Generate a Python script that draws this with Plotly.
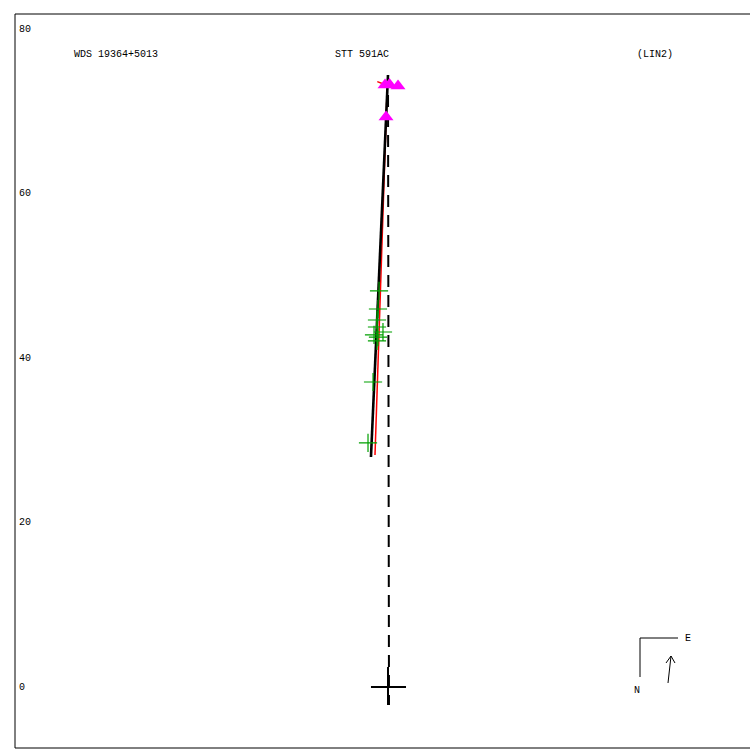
import plotly.graph_objects as go

# ---- data (units of the plot, origin = primary star) ----
obs_x = [-1.09, -1.22, -1.34, -1.34, -0.61, -1.70, -1.22, -1.34, -1.82, -2.43]
obs_y = [48.15, 45.96, 44.62, 43.77, 43.16, 42.80, 42.55, 42.07, 37.08, 29.67]

tri_x = [-0.36, 0.18, 1.22, -0.24]
tri_y = [73.19, 73.25, 73.07, 69.30]

orbit_x = [-2.07, 0.0]
orbit_y = [27.96, 74.41]

red_x = [-1.58, -0.12]
red_y = [28.21, 72.34]

node_x = [0.0, 0.05, 0.12, 0.12]
node_y = [74.41, 22.5, 21.5, -2.19]

oc_x = [[-1.3, 0.0], [0.5, 0.0]]
oc_y = [[73.6, 73.1], [73.5, 73.1]]

tick_vals = [0, 20, 40, 60, 80]
tick_text = ["0", "20", "40", "60", "80"]

labels = ["WDS 19364+5013", "STT 591AC", "(LIN2)"]
label_x = [-33.1, -3.16, 32.5]
label_y = 76.9

MONO = "Liberation Mono"

fig = go.Figure()

# line of nodes (dashed)
fig.add_trace(go.Scatter(x=node_x, y=node_y, mode="lines",
                         line=dict(color="black", width=2, dash="12px,8px"),
                         hoverinfo="skip"))
# red residual line (under the orbit)
fig.add_trace(go.Scatter(x=red_x, y=red_y, mode="lines",
                         line=dict(color="red", width=1.5), hoverinfo="skip"))
for xs, ys in zip(oc_x, oc_y):
    fig.add_trace(go.Scatter(x=xs, y=ys, mode="lines",
                             line=dict(color="red", width=1.5), hoverinfo="skip"))
# orbit
fig.add_trace(go.Scatter(x=orbit_x, y=orbit_y, mode="lines",
                         line=dict(color="black", width=2.6), hoverinfo="skip"))
# observations
fig.add_trace(go.Scatter(x=obs_x, y=obs_y, mode="markers",
                         marker=dict(symbol="cross-thin", size=13,
                                     line=dict(color="#00a000", width=1.2)),
                         hoverinfo="skip"))
# triangles
fig.add_trace(go.Scatter(x=tri_x, y=tri_y, mode="markers",
                         marker=dict(symbol="triangle-up", size=13, color="#ff00ff"),
                         hoverinfo="skip"))

# origin cross
fig.add_shape(type="line", x0=-2.07, x1=2.19, y0=0, y1=0,
              line=dict(color="black", width=2))
fig.add_shape(type="line", x0=0, x1=0, y0=2.43, y1=-2.19,
              line=dict(color="black", width=2))

# frame
fig.add_shape(type="rect", xref="paper", yref="paper",
              x0=15/750, x1=1.01, y0=1-748/750, y1=1-14/750,
              line=dict(color="black", width=1))

# tick labels
for v, t in zip(tick_vals, tick_text):
    fig.add_annotation(x=17/750, xref="paper", y=v, yref="y", text=t,
                       showarrow=False, xanchor="left", yanchor="middle",
                       font=dict(family=MONO, size=10, color="black"))

for t, lx in zip(labels, label_x):
    fig.add_annotation(x=lx, y=label_y, text=t, showarrow=False,
                       xanchor="center", yanchor="middle",
                       font=dict(family=MONO, size=10, color="black"))

# compass
def px(x): return x / 750
def py(y): return 1 - y / 750
for (a, b, c, d) in [(640, 638, 678, 638), (640, 638, 640, 677),
                     (668, 683, 671, 656), (671, 656, 666, 663), (671, 656, 675, 663)]:
    fig.add_shape(type="line", xref="paper", yref="paper",
                  x0=px(a), y0=py(b), x1=px(c), y1=py(d),
                  line=dict(color="black", width=1))
fig.add_annotation(x=px(688), y=py(638), xref="paper", yref="paper", text="E",
                   showarrow=False, xanchor="center", yanchor="middle",
                   font=dict(family=MONO, size=10, color="black"))
fig.add_annotation(x=px(637), y=py(690), xref="paper", yref="paper", text="N",
                   showarrow=False, xanchor="center", yanchor="middle",
                   font=dict(family=MONO, size=10, color="black"))

S = 8.225
fig.update_layout(
    width=750, height=750,
    margin=dict(l=0, r=0, t=0, b=0),
    paper_bgcolor="white", plot_bgcolor="white",
    showlegend=False,
    xaxis=dict(range=[(0 - 388) / S, (750 - 388) / S], visible=False, fixedrange=True),
    yaxis=dict(range=[(687 - 750) / S, 687 / S], visible=False, fixedrange=True),
)

fig.write_html("out.html", config={"displayModeBar": False},
               post_script="document.body.style.margin='0';document.body.style.overflow='hidden';")
